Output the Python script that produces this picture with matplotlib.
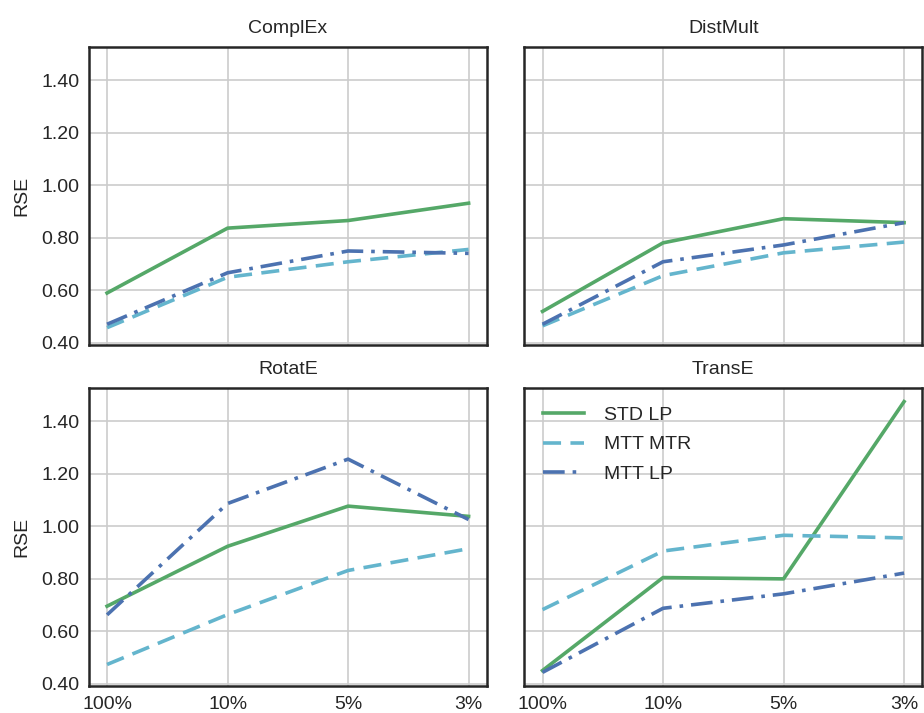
import matplotlib
matplotlib.use("Agg")
import matplotlib.pyplot as plt

CATEGORIES = ["100%", "10%", "5%", "3%"]
MODELS = ["ComplEx", "DistMult", "RotatE", "TransE"]

STD_LP = {
    "ComplEx":  [0.589, 0.836, 0.865, 0.931],
    "DistMult": [0.519, 0.780, 0.872, 0.857],
    "RotatE":   [0.695, 0.923, 1.076, 1.037],
    "TransE":   [0.450, 0.804, 0.799, 1.474],
}
MTT_MTR = {
    "ComplEx":  [0.457, 0.649, 0.708, 0.755],
    "DistMult": [0.464, 0.655, 0.742, 0.783],
    "RotatE":   [0.473, 0.663, 0.831, 0.914],
    "TransE":   [0.682, 0.905, 0.965, 0.955],
}
MTT_LP = {
    "ComplEx":  [0.470, 0.666, 0.749, 0.740],
    "DistMult": [0.470, 0.708, 0.772, 0.857],
    "RotatE":   [0.662, 1.086, 1.255, 1.025],
    "TransE":   [0.443, 0.687, 0.742, 0.821],
}

SERIES = [
    ("STD LP",  STD_LP,  "#55A868", "-"),
    ("MTT MTR", MTT_MTR, "#64B5CD", (0, (5.0, 2.6))),
    ("MTT LP",  MTT_LP,  "#4C72B0", (0, (6.0, 2.2, 1.0, 2.2))),
]

TEXT_COLOR = "#262626"

plt.rcParams["font.family"] = ["Liberation Sans", "DejaVu Sans"]

fig, axes = plt.subplots(2, 2, figsize=(9.24, 7.13), dpi=100,
                         sharex=True, sharey=True)
fig.subplots_adjust(left=0.0963, right=0.998, top=0.934, bottom=0.038,
                    wspace=0.095, hspace=0.145)

x = list(range(len(CATEGORIES)))
for ax, model in zip(axes.flat, MODELS):
    for label, data, color, ls in SERIES:
        ax.plot(x, data[model], color=color, linestyle=ls, linewidth=2.6,
                label=label)
    ax.set_title(model, fontsize=14, pad=10, color=TEXT_COLOR)
    ax.grid(True, color="#cccccc", linewidth=1.2)
    ax.set_axisbelow(True)
    for spine in ax.spines.values():
        spine.set_color(TEXT_COLOR)
        spine.set_linewidth(1.8)
    ax.tick_params(length=0, pad=7, labelsize=14, colors=TEXT_COLOR)

ax0 = axes[0][0]
ax0.set_xticks(x)
ax0.set_xticklabels(CATEGORIES)
ax0.set_yticks([0.4, 0.6, 0.8, 1.0, 1.2, 1.4])
ax0.yaxis.set_major_formatter(matplotlib.ticker.FormatStrFormatter("%.2f"))

for row in range(2):
    axes[row][0].set_ylabel("RSE", fontsize=14, color=TEXT_COLOR, labelpad=8)

axes[1][1].legend(loc="upper left", frameon=False, fontsize=14,
                  handlelength=2.1, handletextpad=1.05, labelspacing=0.6,
                  borderaxespad=0.55, bbox_to_anchor=(0.0, 1.0),
                  labelcolor=TEXT_COLOR)

fig.savefig("out.png", dpi=100)
